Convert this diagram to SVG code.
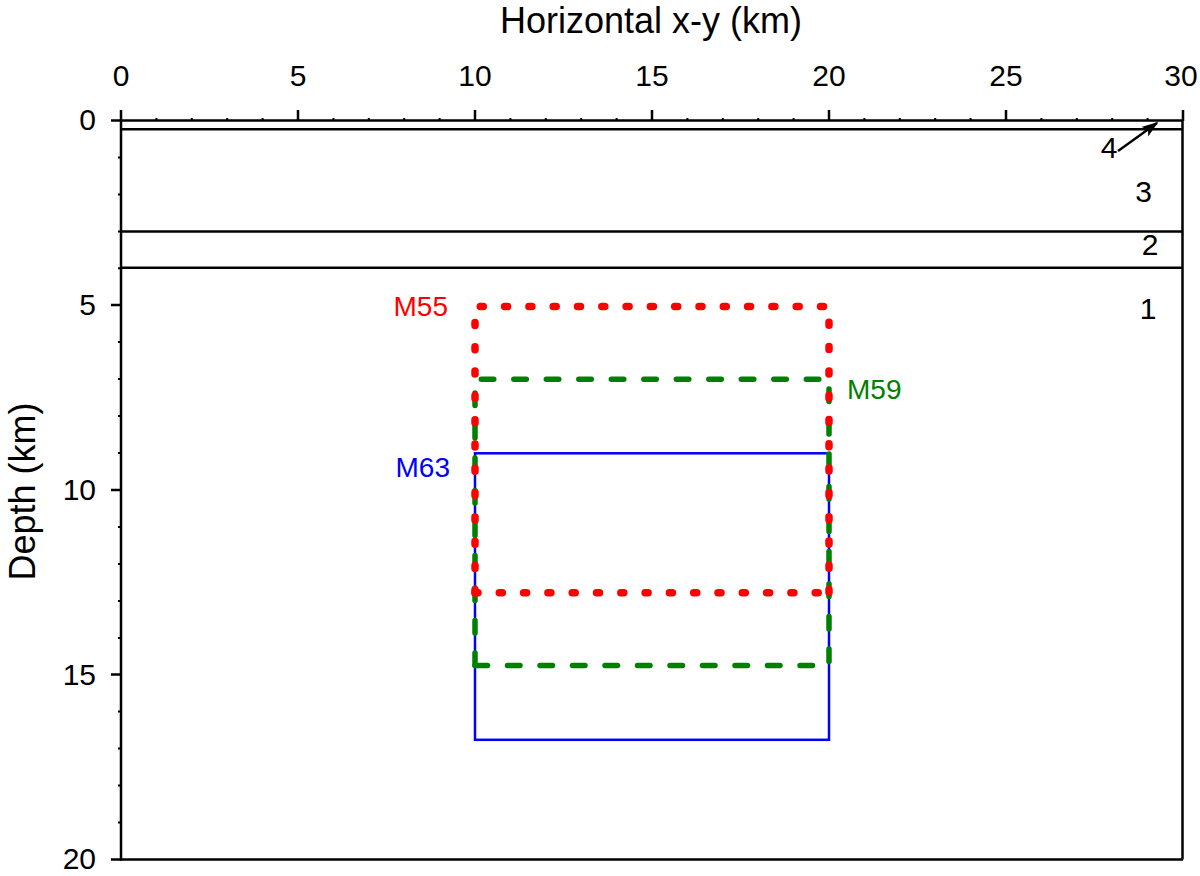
<svg xmlns="http://www.w3.org/2000/svg" width="1200" height="876" viewBox="0 0 1200 876">
<defs>
<style>
text{font-family:"Liberation Sans",Arial,sans-serif;fill:#000}
.lab{font-size:36px}
.tk{font-size:30px}
.ml{font-size:28px}
.ax{stroke:#000;stroke-width:2.5;fill:none}
.lay{stroke:#000;stroke-width:2.5;fill:none}
.maj{stroke:#000;stroke-width:2.5}
.min{stroke:#000;stroke-width:2}
.red{stroke:#f00;stroke-width:7.5;fill:none;stroke-linecap:round;stroke-dasharray:3 21.3}
.grn{stroke:#008000;stroke-width:5.5;fill:none;stroke-linecap:round;stroke-dasharray:12.5 20}
.blu{stroke:#00f;stroke-width:2.5;fill:none}
</style>
<marker id="ah" viewBox="0 0 10 10" refX="9" refY="5" markerWidth="7" markerHeight="7" orient="auto" markerUnits="strokeWidth">
<path d="M0,1.5 L10,5 L0,8.5 L2.5,5 z" fill="#000"/>
</marker>
</defs>
<g id="axes">
<text class="lab" x="651" y="33" text-anchor="middle">Horizontal x-y (km)</text>
<text class="lab" transform="translate(35,491.5) rotate(-90)" text-anchor="middle">Depth (km)</text>
<g class="tk" text-anchor="middle">
<text x="121" y="86">0</text><text x="298" y="86">5</text><text x="475" y="86">10</text><text x="652" y="86">15</text><text x="829" y="86">20</text><text x="1006" y="86">25</text><text x="1181" y="86">30</text>
</g>
<g class="tk" text-anchor="end">
<text x="96" y="130">0</text><text x="96" y="315">5</text><text x="96" y="500">10</text><text x="96" y="685">15</text><text x="96" y="869">20</text>
</g>
<path class="ax" d="M121,120.5 H1183 M121,120.5 V859.5 H1183 M1182.5,120.5 V859.5"/>
<path class="maj" d="M121,110 V121 M298,110 V121 M475,110 V121 M652,110 V121 M829,110 V121 M1006,110 V121 M1183,110 V121 M111,120.5 H122 M111,305 H122 M111,490 H122 M111,674.5 H122 M111,859.5 H122"/>
<path class="min" d="M156.4,118 V121 M191.8,118 V121 M227.2,118 V121 M262.6,118 V121 M333.4,118 V121 M368.8,118 V121 M404.2,118 V121 M439.6,118 V121 M510.4,118 V121 M545.8,118 V121 M581.2,118 V121 M616.6,118 V121 M687.4,118 V121 M722.8,118 V121 M758.2,118 V121 M793.6,118 V121 M864.4,118 V121 M899.8,118 V121 M935.2,118 V121 M970.6,118 V121 M1041.4,118 V121 M1076.8,118 V121 M1112.2,118 V121 M1147.6,118 V121 M118,157.5 H122 M118,194.4 H122 M118,231.4 H122 M118,268.3 H122 M118,342 H122 M118,379 H122 M118,416 H122 M118,453 H122 M118,527 H122 M118,564 H122 M118,601 H122 M118,638 H122 M118,711.5 H122 M118,748.5 H122 M118,785.5 H122 M118,822.5 H122"/>
</g>
<g id="layers">
<path class="lay" d="M121,129.3 H1183 M121,231.5 H1183 M121,267.8 H1183"/>
<text class="tk" x="1109" y="158" text-anchor="middle">4</text>
<text class="tk" x="1143.5" y="202" text-anchor="middle">3</text>
<text class="tk" x="1150" y="255" text-anchor="middle">2</text>
<text class="tk" x="1148" y="319" text-anchor="middle">1</text>
</g>
<g id="connectors">
<line x1="1118" y1="151" x2="1157" y2="123" stroke="#000" stroke-width="2.4" marker-end="url(#ah)"/>
</g>
<g id="M63">
<rect class="blu" x="475" y="453.3" width="354" height="286.5"/>
<text class="ml" x="450" y="477" text-anchor="end" style="fill:#00f">M63</text>
</g>
<g id="M59">
<path class="grn" d="M475,665.5 V379.3 H829 V665.5"/>
<path class="grn" d="M475,665.5 H829"/>
<text class="ml" x="847" y="399" style="fill:#008000">M59</text>
</g>
<g id="M55">
<path class="red" d="M475,592.8 V306.5 H829 V592.8"/>
<path class="red" d="M475,592.8 H829"/>
<text class="ml" x="448" y="316" text-anchor="end" style="fill:#f00">M55</text>
</g>
</svg>
